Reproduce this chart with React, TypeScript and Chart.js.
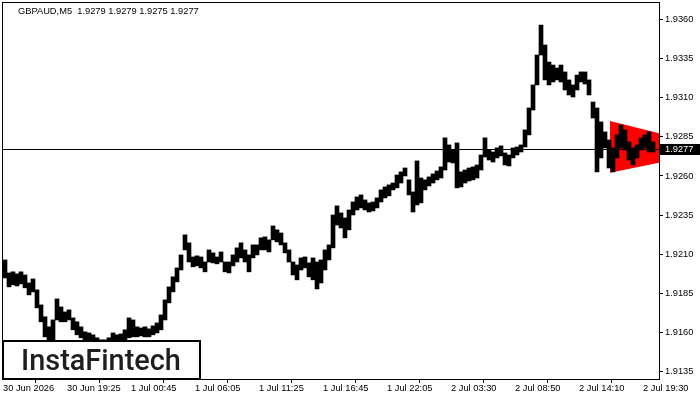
import { useEffect, useRef } from 'react';
import { Chart, registerables } from 'chart.js';

Chart.register(...registerables);

const titleText = 'GBPAUD,M5  1.9279 1.9279 1.9275 1.9277';
const brandText = 'InstaFintech';

const xTickLabels = [
  '30 Jun 2026', '30 Jun 19:25', '1 Jul 00:45', '1 Jul 06:05', '1 Jul 11:25', '1 Jul 16:45',
  '1 Jul 22:05', '2 Jul 03:30', '2 Jul 08:50', '2 Jul 14:10', '2 Jul 19:30',
];
const xTickBars = [0, 64, 128, 192, 256, 320, 384, 448, 512, 576, 640];
const yTickValues = [1.9135, 1.916, 1.9185, 1.921, 1.9235, 1.926, 1.9285, 1.931, 1.9335, 1.936];
const yRange = [1.91304, 1.93704];
const totalBars = 656;
const barsPerColumn = 4;

const columnHigh = [
  1.92064, 1.91981, 1.91988, 1.91975, 1.91988, 1.91968, 1.91917, 1.91943, 1.91873, 1.91777,
  1.91701, 1.91637, 1.91681, 1.91815, 1.91764, 1.91732, 1.91745, 1.91694, 1.91669, 1.91637,
  1.91605, 1.91598, 1.91586, 1.91567, 1.91554, 1.91554, 1.91567, 1.91598, 1.91586, 1.91592,
  1.91618, 1.91694, 1.91681, 1.91637, 1.9163, 1.91637, 1.91624, 1.91643, 1.91662, 1.91713,
  1.91809, 1.91892, 1.91956, 1.92013, 1.92096, 1.92224, 1.92173, 1.92083, 1.9209, 1.92083,
  1.92051, 1.92128, 1.92109, 1.92083, 1.92115, 1.92051, 1.92051, 1.92096, 1.92141, 1.92173,
  1.92128, 1.92096, 1.9216, 1.9216, 1.92205, 1.92211, 1.92192, 1.92281, 1.92256, 1.92236,
  1.92173, 1.92128, 1.92051, 1.92032, 1.92077, 1.92083, 1.92045, 1.92077, 1.92051, 1.92064,
  1.92128, 1.9216, 1.92351, 1.92409, 1.92364, 1.92332, 1.92383, 1.92434, 1.92466, 1.92479,
  1.92447, 1.92428, 1.92434, 1.9246, 1.92511, 1.9253, 1.92543, 1.92555, 1.92606, 1.92626,
  1.92651, 1.92575, 1.92498, 1.92696, 1.92587, 1.92575, 1.92594, 1.92613, 1.92632, 1.92658,
  1.92843, 1.92798, 1.92766, 1.92811, 1.92626, 1.92638, 1.92651, 1.92658, 1.9267, 1.92734,
  1.92843, 1.92766, 1.92753, 1.92779, 1.92792, 1.92747, 1.92734, 1.92779, 1.92785, 1.92798,
  1.92894, 1.93034, 1.93181, 1.93372, 1.93563, 1.93436, 1.93327, 1.93308, 1.93289, 1.93308,
  1.93264, 1.93213, 1.93181, 1.93244, 1.93264, 1.93264, 1.93213, 1.93072, 1.93034, 1.92945,
  1.92881, 1.9283, 1.92779, 1.92862, 1.92925, 1.92894, 1.92817, 1.92779, 1.92798, 1.92843,
  1.92862, 1.92881, 1.92817,
];

const columnLow = [
  1.91949, 1.91892, 1.91905, 1.91898, 1.91911, 1.91886, 1.91841, 1.9186, 1.91758, 1.91669,
  1.91573, 1.91522, 1.91554, 1.91681, 1.91669, 1.91669, 1.91681, 1.91618, 1.91586, 1.91567,
  1.91541, 1.91522, 1.91516, 1.9149, 1.91477, 1.91477, 1.91503, 1.91541, 1.91528, 1.91535,
  1.91554, 1.91567, 1.91573, 1.91573, 1.91579, 1.91573, 1.91573, 1.91586, 1.91598, 1.91618,
  1.91681, 1.9179, 1.9186, 1.91924, 1.92, 1.92128, 1.92051, 1.9202, 1.92026, 1.92013,
  1.91988, 1.92051, 1.92045, 1.92039, 1.92051, 1.91988, 1.91981, 1.92026, 1.92051, 1.92077,
  1.92051, 1.91988, 1.92077, 1.92096, 1.92128, 1.92128, 1.92115, 1.92192, 1.92179, 1.9216,
  1.92109, 1.92051, 1.91968, 1.91937, 1.92, 1.92013, 1.91956, 1.91937, 1.91879, 1.91917,
  1.92, 1.92064, 1.92141, 1.92287, 1.92268, 1.92205, 1.92256, 1.92351, 1.92383, 1.92396,
  1.92383, 1.9237, 1.92377, 1.92396, 1.92434, 1.9246, 1.92473, 1.92511, 1.92524, 1.92555,
  1.926, 1.92479, 1.9237, 1.92415, 1.92428, 1.92511, 1.92536, 1.92555, 1.92575, 1.92587,
  1.92638, 1.92689, 1.92683, 1.92524, 1.9253, 1.92555, 1.92568, 1.92575, 1.92587, 1.92638,
  1.92721, 1.92702, 1.92689, 1.92715, 1.92728, 1.9267, 1.92664, 1.92715, 1.92734, 1.92753,
  1.92785, 1.92862, 1.93021, 1.93181, 1.93372, 1.93213, 1.93181, 1.932, 1.93213, 1.932,
  1.93149, 1.93117, 1.93104, 1.93149, 1.932, 1.93187, 1.93117, 1.9297, 1.92626, 1.92715,
  1.92779, 1.92651, 1.92626, 1.92715, 1.92779, 1.92766, 1.92702, 1.9267, 1.92715, 1.92766,
  1.92779, 1.92753, 1.92753,
];

const lastPrice = 1.9277;
const pennantBars = [607, 656];
const pennantTop = [1.92951, 1.92872];
const pennantBottom = [1.92621, 1.92685];

const axisFont = { family: '"Liberation Sans", Arial, sans-serif', size: 9.3 };

const overlayPlugin = {
  id: 'mtOverlay',
  afterDatasetsDraw(chart: any) {
    const { ctx, chartArea: a, scales } = chart;
    const y = Math.round(scales.y.getPixelForValue(lastPrice)) + 0.5;
    ctx.save();
    ctx.strokeStyle = '#000';
    ctx.lineWidth = 1;
    ctx.beginPath();
    ctx.moveTo(a.left, y);
    ctx.lineTo(a.right, y);
    ctx.stroke();
    ctx.restore();
  },
  afterDraw(chart: any) {
    const { ctx, chartArea: a, scales } = chart;
    ctx.save();
    // frame
    ctx.strokeStyle = '#000';
    ctx.lineWidth = 1;
    ctx.strokeRect(a.left - 0.5, a.top - 0.5, a.right - a.left + 1, a.bottom - a.top + 1);
    // last price label
    const py = Math.round(scales.y.getPixelForValue(lastPrice));
    ctx.fillStyle = '#000';
    ctx.fillRect(a.right + 1, py - 5, chart.width - a.right - 1, 11);
    ctx.fillStyle = '#fff';
    ctx.font = '9.3px "Liberation Sans", Arial, sans-serif';
    ctx.textAlign = 'left';
    ctx.textBaseline = 'middle';
    ctx.fillText(lastPrice.toFixed(4), a.right + 6, py + 0.5);
    // title
    ctx.fillStyle = '#000';
    ctx.textBaseline = 'alphabetic';
    ctx.fillText(titleText, a.left + 15, a.top + 11);
    // brand box
    const bx = a.left - 1;
    const by = a.bottom - 39;
    const bw = 199;
    const bh = 39;
    ctx.fillStyle = '#fff';
    ctx.fillRect(bx, by, bw, bh);
    ctx.lineWidth = 2;
    ctx.strokeStyle = '#000';
    ctx.strokeRect(bx + 1, by + 1, bw - 2, bh - 1);
    ctx.font = '500 28px Roboto, "Open Sans", sans-serif';
    const w = ctx.measureText(brandText).width;
    const size = 28 * 160 / w;
    ctx.font = `500 ${size}px Roboto, "Open Sans", sans-serif`;
    ctx.fillStyle = '#1e1e1e';
    ctx.textBaseline = 'alphabetic';
    ctx.fillText(brandText, bx + 19, by + 29.5);
    ctx.restore();
  },
};

export default function App() {
  const ref = useRef<HTMLCanvasElement | null>(null);

  useEffect(() => {
    if (!ref.current) return;
    const barData = columnHigh.map((h, i) => ({
      x: i * barsPerColumn + barsPerColumn / 2,
      y: [columnLow[i], h],
    }));
    const chart = new Chart(ref.current, {
      type: 'bar',
      data: {
        datasets: [
          {
            type: 'bar',
            data: barData as any,
            backgroundColor: '#000',
            borderWidth: 0,
            barPercentage: 1,
            categoryPercentage: 1,
            order: 0,
          } as any,
          {
            type: 'line',
            data: pennantBars.map((x, i) => ({ x, y: pennantTop[i] })),
            borderWidth: 0,
            pointRadius: 0,
            backgroundColor: '#ff0000',
            fill: '+1',
            tension: 0,
            order: 2,
          } as any,
          {
            type: 'line',
            data: pennantBars.map((x, i) => ({ x, y: pennantBottom[i] })),
            borderWidth: 0,
            pointRadius: 0,
            backgroundColor: '#ff0000',
            fill: false,
            tension: 0,
            order: 3,
          } as any,
        ],
      },
      options: {
        animation: false,
        responsive: false,
        layout: { padding: { left: 3, top: 3, right: 0, bottom: 0 } },
        plugins: { legend: { display: false }, tooltip: { enabled: false } },
        scales: {
          x: {
            type: 'linear',
            min: 0,
            max: totalBars,
            offset: false,
            border: { display: false },
            grid: { drawOnChartArea: false, drawTicks: true, tickLength: 4, color: '#000' },
            afterBuildTicks: (axis: any) => {
              axis.ticks = xTickBars.map((v) => ({ value: v }));
            },
            afterFit: (s: any) => {
              s.height = 21;
              s.paddingLeft = 0;
              s.paddingRight = 0;
            },
            ticks: {
              autoSkip: false,
              maxRotation: 0,
              minRotation: 0,
              align: 'start',
              padding: 0,
              color: '#000',
              font: axisFont,
              callback: (_v: any, idx: number) => xTickLabels[idx] ?? '',
            },
          } as any,
          y: {
            type: 'linear',
            position: 'right',
            min: yRange[0],
            max: yRange[1],
            border: { display: false },
            grid: { drawOnChartArea: false, drawTicks: true, tickLength: 4, color: '#000' },
            afterBuildTicks: (axis: any) => {
              axis.ticks = yTickValues.map((v) => ({ value: v }));
            },
            afterFit: (s: any) => {
              s.width = 41;
              s.paddingTop = 0;
              s.paddingBottom = 0;
            },
            ticks: {
              padding: 2,
              color: '#000',
              font: axisFont,
              callback: (v: any) => Number(v).toFixed(4),
            },
          } as any,
        },
      },
      plugins: [overlayPlugin],
    });
    return () => chart.destroy();
  }, []);

  return (
    <div style={{ position: 'fixed', left: 0, top: 0, width: 700, height: 400, background: '#fff' }}>
      <canvas ref={ref} width={700} height={400} style={{ display: 'block' }} />
    </div>
  );
}
